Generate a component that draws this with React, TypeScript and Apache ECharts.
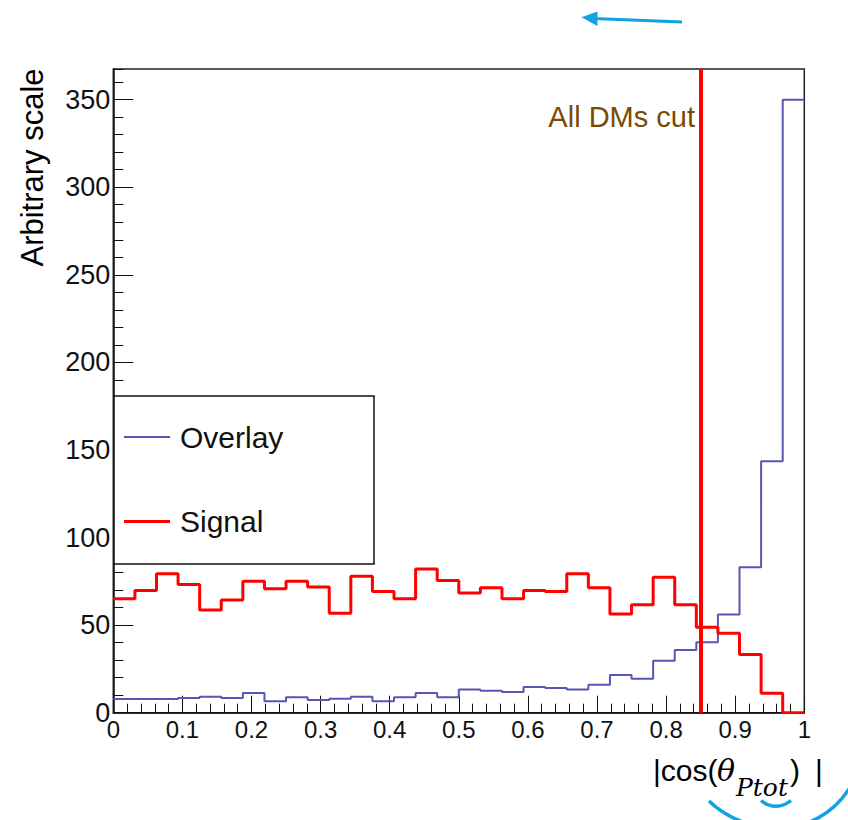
import React, { useEffect, useRef } from "react";
import * as echarts from "echarts";

// ---- data ----
const nBins = 32;
const xRange = [0, 1];
const overlayCounts = [
  7.8, 7.8, 7.8, 8.4, 9.1, 8.4, 11.2, 6.5, 8.8, 7.2, 8.0, 9.1, 6.5, 8.8, 11.2, 8.8,
  13.3, 12.6, 11.8, 14.7, 14.1, 13.3, 16.0, 21.5, 19.4, 29.7, 35.8, 40.2, 56.0, 83.0, 143.5, 350.0,
];
const signalCounts = [
  65.0, 69.8, 79.3, 73.2, 58.7, 64.4, 75.1, 70.7, 75.1, 71.7, 56.8, 77.9, 69.2, 65.0, 82.1, 75.5,
  68.4, 71.3, 65.0, 69.8, 69.2, 79.3, 71.3, 56.4, 61.7, 77.4, 61.7, 48.8, 45.4, 33.2, 11.1, 0.0,
];
const cutValue = 0.848;
const yMax = 367.5;
const seriesNames = ["Overlay", "Signal"];
const cutLabel = "All DMs cut";
const yTitle = "Arbitrary scale";

const BLUE = "#5656b4";
const RED = "#ff0000";
const SANS = "Liberation Sans, Arial, Helvetica, sans-serif";
const SERIF = "DejaVu Serif, serif";
const ANNOT = "#12a2e4";

function stepPoints(counts: number[]) {
  const w = (xRange[1] - xRange[0]) / nBins;
  const pts = counts.map((v, i) => [xRange[0] + i * w, v]);
  pts.push([xRange[1], counts[counts.length - 1]]);
  return pts;
}

export default function App() {
  const ref = useRef<HTMLDivElement>(null);
  useEffect(() => {
    if (!ref.current) return;
    const chart = echarts.init(ref.current, null, { renderer: "svg" });
    const gridLeft = 113.3, gridTop = 69, gridRight = 43.7, gridBottom = 107.3;
    chart.setOption({
      animation: false,
      backgroundColor: "#ffffff",
      grid: {
        left: gridLeft, top: gridTop, right: gridRight, bottom: gridBottom,
        show: true, borderColor: "#222", borderWidth: 1.5, backgroundColor: "transparent",
      },
      xAxis: {
        type: "value", min: 0, max: 1, interval: 0.1,
        axisLine: { show: true, lineStyle: { color: "#111", width: 1.5 } },
        axisTick: { show: true, inside: true, length: 17, lineStyle: { color: "#111", width: 1 } },
        minorTick: { show: true, splitNumber: 5, length: 9, lineStyle: { color: "#111", width: 1 } },
        axisLabel: { color: "#111", fontSize: 24, fontFamily: SANS, margin: 5 },
        splitLine: { show: false },
      },
      yAxis: [
        {
          type: "value", min: 0, max: yMax, interval: 50, position: "left",
          axisLine: { show: true, lineStyle: { color: "#111", width: 1.5 } },
          axisTick: { show: true, inside: true, length: 20, lineStyle: { color: "#111", width: 1 } },
          axisLabel: { color: "#111", fontSize: 27, fontFamily: SANS, margin: 3, showMaxLabel: false },
          splitLine: { show: false },
        },
        {
          type: "value", min: 0, max: yMax, interval: 10, position: "left",
          axisLine: { show: false },
          axisTick: { show: true, inside: true, length: 10, lineStyle: { color: "#111", width: 1 } },
          axisLabel: { show: false },
          splitLine: { show: false },
        },
      ],
      series: [
        {
          name: seriesNames[0], type: "line", step: "end", yAxisIndex: 0,
          data: stepPoints(overlayCounts), symbol: "none",
          lineStyle: { color: BLUE, width: 2 }, z: 3,
        },
        {
          name: seriesNames[1], type: "line", step: "end", yAxisIndex: 0,
          data: stepPoints(signalCounts), symbol: "none",
          lineStyle: { color: RED, width: 3 }, z: 4,
          markLine: {
            silent: true, symbol: "none", animation: false,
            label: { show: false },
            lineStyle: { color: RED, width: 4, type: "solid" },
            data: [{ xAxis: cutValue }],
          },
        },
      ],
      graphic: [
        // y-axis title
        {
          type: "text", x: 32, y: 167.5, rotation: Math.PI / 2,
          style: { text: yTitle, font: `31px ${SANS}`, fill: "#000", align: "center", verticalAlign: "middle" },
        },
        // cut label
        {
          type: "text", x: 695, y: 117,
          style: { text: cutLabel, font: `29px ${SANS}`, fill: "#7a4b00", align: "right", verticalAlign: "middle" },
        },
        // legend box
        {
          type: "rect", z: 20,
          shape: { x: 114, y: 396, width: 260, height: 168 },
          style: { fill: "#fff", stroke: "#111", lineWidth: 1.5 },
        },
        { type: "line", z: 21, shape: { x1: 124, y1: 437, x2: 170, y2: 437 }, style: { stroke: BLUE, lineWidth: 2 } },
        { type: "line", z: 21, shape: { x1: 124, y1: 521.5, x2: 170, y2: 521.5 }, style: { stroke: RED, lineWidth: 3 } },
        {
          type: "text", z: 21, x: 180, y: 437,
          style: { text: seriesNames[0], font: `30px ${SANS}`, fill: "#111", align: "left", verticalAlign: "middle" },
        },
        {
          type: "text", z: 21, x: 180, y: 521.5,
          style: { text: seriesNames[1], font: `30px ${SANS}`, fill: "#111", align: "left", verticalAlign: "middle" },
        },
        // x-axis title |cos(θ_Ptot)|
        {
          type: "text", x: 653, y: 770,
          style: { text: "|cos(", font: `30px ${SANS}`, fill: "#000", align: "left", verticalAlign: "middle" },
        },
        {
          type: "text", x: 717, y: 770,
          style: { text: "θ", font: `italic 30px ${SERIF}`, fill: "#000", align: "left", verticalAlign: "middle" },
        },
        {
          type: "text", x: 736, y: 787,
          style: { text: "Ptot", font: `italic 25px ${SERIF}`, fill: "#000", align: "left", verticalAlign: "middle" },
        },
        {
          type: "text", x: 790, y: 770,
          style: { text: ")", font: `30px ${SANS}`, fill: "#000", align: "left", verticalAlign: "middle" },
        },
        {
          type: "text", x: 815, y: 770,
          style: { text: "|", font: `30px ${SANS}`, fill: "#000", align: "left", verticalAlign: "middle" },
        },
        // annotations: arrow at top
        { type: "line", shape: { x1: 682, y1: 22, x2: 594, y2: 18.5 }, style: { stroke: ANNOT, lineWidth: 3 } },
        {
          type: "polygon",
          shape: { points: [[581.5, 17.3], [597.5, 11.5], [597.5, 26]] },
          style: { fill: ANNOT },
        },
        // annotations: arc under x title
        {
          type: "bezierCurve",
          shape: { x1: 709, y1: 801, cpx1: 745, cpy1: 836, cpx2: 815, cpy2: 842, x2: 849, y2: 789 },
          style: { stroke: ANNOT, lineWidth: 3.5, fill: "none" },
        },
        {
          type: "bezierCurve",
          shape: { x1: 761, y1: 800.5, cpx1: 770, cpy1: 808, cpx2: 782, cpy2: 808, x2: 791, y2: 800.5 },
          style: { stroke: ANNOT, lineWidth: 3.5, fill: "none" },
        },
      ],
    });
    return () => chart.dispose();
  }, []);
  return (
    <div
      ref={ref}
      style={{ position: "fixed", left: 0, top: 0, width: 848, height: 820, background: "#fff" }}
    />
  );
}
